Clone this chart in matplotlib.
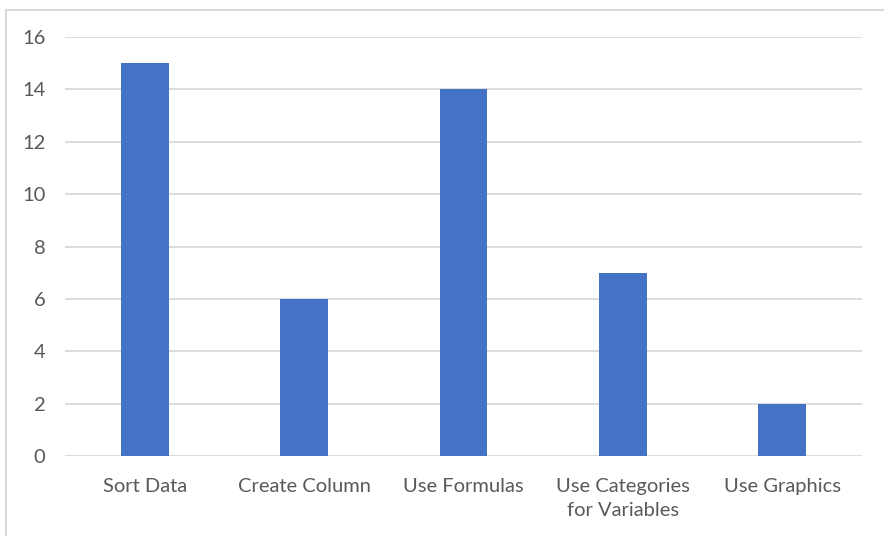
import numpy as np
import matplotlib
matplotlib.use("Agg")
import matplotlib.pyplot as plt
from matplotlib.patches import Rectangle

# chart data
categories = ["Sort Data", "Create Column", "Use Formulas", "Use Categories\nfor Variables", "Use Graphics"]
counts = [15, 6, 14, 7, 2]
y_ticks = [0, 2, 4, 6, 8, 10, 12, 14, 16]

bar_color = "#4472C4"
grid_color = "#D9D9D9"
text_color = "#595959"

plt.rcParams['font.family'] = ['Lato', 'DejaVu Sans']

fig = plt.figure(figsize=(8.84, 5.36), dpi=100)
ax = fig.add_axes([65 / 884, 1 - 456 / 536, (862 - 65) / 884, (456 - 37) / 536])

x = np.arange(len(categories))
ax.bar(x, counts, width=0.30, color=bar_color, zorder=3)

ax.set_xlim(-0.5, len(categories) - 0.5)
ax.set_ylim(0, 16)
ax.set_yticks(y_ticks)
ax.set_xticks(x)
ax.set_xticklabels(categories, linespacing=1.45)
ax.yaxis.grid(True, color=grid_color, linewidth=1.3, zorder=0)
for s in ax.spines.values():
    s.set_visible(False)
ax.tick_params(axis='both', length=0, labelsize=14.5, colors=text_color)
ax.tick_params(axis='x', pad=16)
ax.tick_params(axis='y', pad=14)

# outer chart border (top and left visible)
fig.patches.append(Rectangle((6 / 884, -0.1), 1.2, 1 - 10 / 536 + 0.1,
                             transform=fig.transFigure, fill=False,
                             edgecolor=grid_color, linewidth=1.5))

fig.savefig("out.png", dpi=100)
